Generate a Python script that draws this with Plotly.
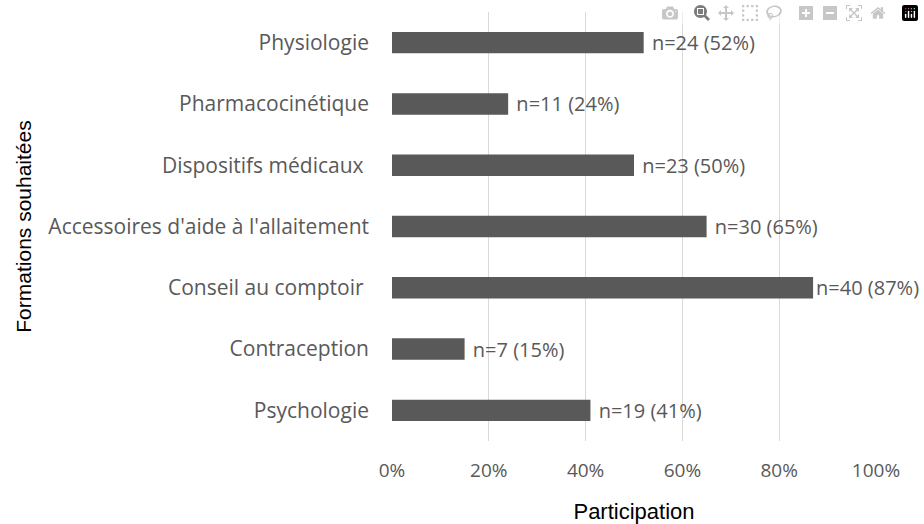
import plotly.graph_objects as go

# top-to-bottom order as shown in the chart
categories = [
    "Physiologie",
    "Pharmacocinétique",
    "Dispositifs médicaux\u00a0",
    "Accessoires d'aide à l'allaitement",
    "Conseil au comptoir\u00a0",
    "Contraception",
    "Psychologie",
]
counts = [24, 11, 23, 30, 40, 7, 19]
percents = [52, 24, 50, 65, 87, 15, 41]

x_ticks = [0, 0.2, 0.4, 0.6, 0.8, 1.0]
x_tick_labels = ["0%", "20%", "40%", "60%", "80%", "100%"]

# the widest bar's label sits right against the bar in the original
labels = [
    ("" if p > 80 else "\u00a0") + f"n={n} ({p}%)" for n, p in zip(counts, percents)
]

fig = go.Figure()
fig.add_trace(
    go.Bar(
        x=[p / 100 for p in percents],
        y=categories,
        orientation="h",
        marker=dict(color="#595959", line=dict(width=0)),
        width=0.35,
        text=labels,
        textposition="outside",
        textfont=dict(family="Open Sans", size=20, color="#595959"),
        cliponaxis=False,
        constraintext="none",
    )
)

fig.update_layout(
    width=924,
    height=524,
    margin=dict(l=392, r=48, t=12, b=83),
    paper_bgcolor="white",
    plot_bgcolor="white",
    showlegend=False,
    xaxis=dict(
        range=[0, 1.0],
        tickvals=x_ticks,
        ticktext=x_tick_labels,
        automargin=False,
        showgrid=True,
        gridcolor="#d9d9d9",
        gridwidth=1,
        zeroline=False,
        showline=False,
        ticks="",
        ticklabelstandoff=16,
        tickfont=dict(family="Open Sans", size=19, color="#595959"),
        title=dict(
            text="Participation",
            font=dict(family="Liberation Sans", size=22, color="black"),
            standoff=22,
        ),
    ),
    yaxis=dict(
        autorange="reversed",
        automargin=False,
        showgrid=False,
        showline=False,
        ticks="",
        ticklabelstandoff=22,
        tickfont=dict(family="Open Sans", size=21, color="#595959"),
        title=dict(
            text="Formations souhaitées",
            font=dict(family="Liberation Sans", size=21, color="black"),
            standoff=11,
        ),
    ),
)

# drop the page's default body margin so the figure fills the window exactly
fig.write_html("out.html", post_script="document.body.style.margin = '0';")
